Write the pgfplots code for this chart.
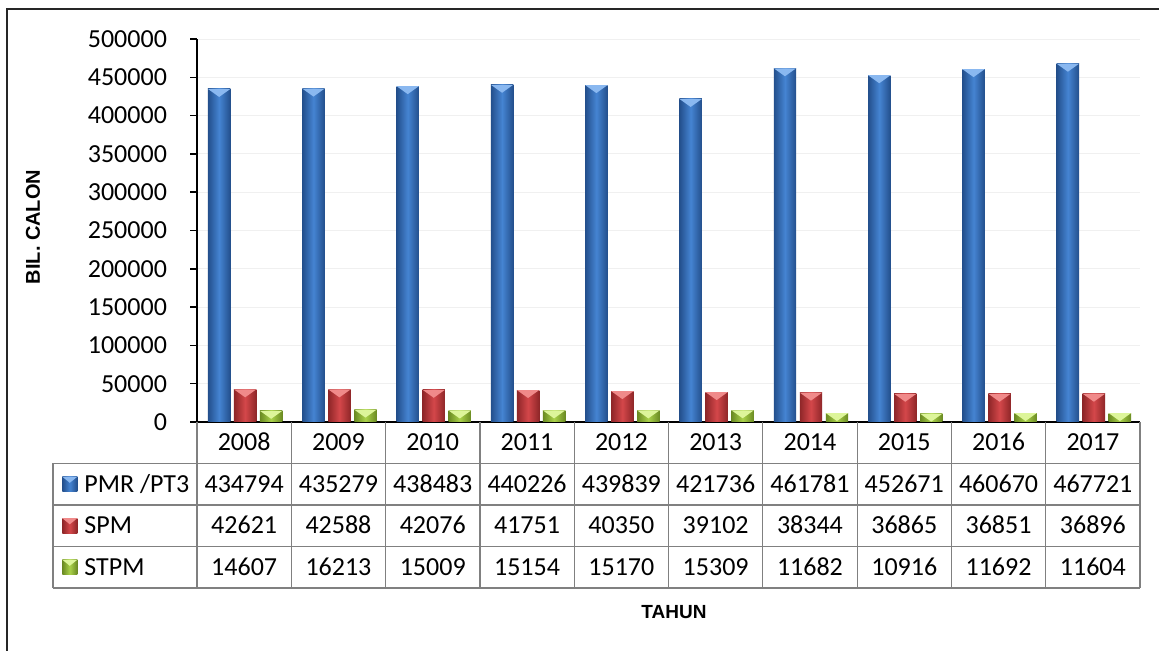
\documentclass[border=0pt]{standalone}
\usepackage{pgfplots}
\pgfplotsset{compat=1.18}
\usepackage{pgfplotstable}
\usepackage{fontspec}
\setmainfont{Carlito}
\newfontfamily\labelfont{Liberation Sans}
\definecolor{bluedark}{HTML}{234F8C}
\definecolor{bluemid}{HTML}{4584D2}
\definecolor{bluetop}{HTML}{8AB8F0}
\definecolor{reddark}{HTML}{8E2628}
\definecolor{redmid}{HTML}{D4474A}
\definecolor{redtop}{HTML}{F08A8A}
\definecolor{greendark}{HTML}{6A8A22}
\definecolor{greenmid}{HTML}{AAD24A}
\definecolor{greentop}{HTML}{DDF59A}
\pgfdeclareplotmark{bevel}{%
  \pgfpathmoveto{\pgfpoint{-5.6pt}{0pt}}%
  \pgfpathlineto{\pgfpoint{5.6pt}{0pt}}%
  \pgfpathlineto{\pgfpoint{0pt}{-4pt}}%
  \pgfpathclose\pgfusepathqfill}
\pgfplotstableread{
x year pmr spm stpm
0 2008 434794 42621 14607
1 2009 435279 42588 16213
2 2010 438483 42076 15009
3 2011 440226 41751 15154
4 2012 439839 40350 15170
5 2013 421736 39102 15309
6 2014 461781 38344 11682
7 2015 452671 36865 10916
8 2016 460670 36851 11692
9 2017 467721 36896 11604
}\data
\begin{document}
\begin{tikzpicture}[font=\fontsize{13}{15}\selectfont]
\useasboundingbox (-98.5pt,-114.5pt) rectangle (481pt,211pt);
\fill[white] (-98.5pt,-114.5pt) rectangle (481pt,211pt);
\draw[line width=0.8pt, black!85] (-95pt,-130pt) -- (-95pt,206.5pt) -- (490pt,206.5pt);
\begin{axis}[
  scale only axis, width=471.5pt, height=191.5pt,
  xmin=-0.5, xmax=9.5, ymin=0, ymax=500000,
  axis x line*=bottom, axis y line*=left,
  axis line style={line width=0.75pt, black},
  xtick=\empty,
  ytick={0,50000,100000,150000,200000,250000,300000,350000,400000,450000,500000},
  tick align=outside, major tick length=3.5pt,
  ytick style={line width=0.75pt, black},
  scaled y ticks=false,
  /pgf/number format/assume math mode=true,
  yticklabel style={/pgf/number format/fixed, /pgf/number format/1000 sep={}, font=\fontsize{13}{15}\selectfont, xshift=-8pt},
  ymajorgrids, major grid style={line width=0.4pt, black!6},
  clip=false,
]
\pgfplotsinvokeforeach{0,...,9}{
\addplot[ybar, bar width=11.2pt, bar shift=0pt, draw=none, left color=bluedark, right color=bluedark, middle color=bluemid, restrict expr to domain={\thisrow{x}}{#1:#1}] table[x expr=\thisrow{x}-0.2651, y=pmr]{\data};
\addplot[ybar, bar width=11.2pt, bar shift=0pt, draw=none, left color=reddark, right color=reddark, middle color=redmid, restrict expr to domain={\thisrow{x}}{#1:#1}] table[x expr=\thisrow{x}+0.0106, y=spm]{\data};
\addplot[ybar, bar width=11.2pt, bar shift=0pt, draw=none, left color=greendark, right color=greendark, middle color=greenmid, restrict expr to domain={\thisrow{x}}{#1:#1}] table[x expr=\thisrow{x}+0.2863, y=stpm]{\data};
}
\addplot[only marks, mark=bevel, mark options={fill=bluetop, draw=none}] table[x expr=\thisrow{x}-0.2651, y=pmr]{\data};
\addplot[only marks, mark=bevel, mark options={fill=redtop, draw=none}] table[x expr=\thisrow{x}+0.0106, y=spm]{\data};
\addplot[only marks, mark=bevel, mark options={fill=greentop, draw=none}] table[x expr=\thisrow{x}+0.2863, y=stpm]{\data};
\end{axis}
% data table grid
\begin{scope}[line width=0.6pt, black!50]
\foreach \yy in {-20.75,-41.5,-62.25,-83}{\draw (0,\yy pt) -- (471.5pt,\yy pt);}
\foreach \yy in {-41.5,-62.25,-83}{\draw (-72pt,\yy pt) -- (0,\yy pt);}
\draw (-72pt,-20.75pt) -- (0,-20.75pt);
\draw (-72pt,-20.75pt) -- (-72pt,-83pt);
\foreach \i in {0,...,10}{\draw ({\i*47.15pt},0) -- ({\i*47.15pt},-83pt);}
\end{scope}
\pgfplotstableforeachcolumnelement{year}\of\data\as\val{%
  \node[anchor=base, inner sep=0pt] at ({(\pgfplotstablerow+0.5)*47.15pt},-14.5pt) {\val};}
\pgfplotstableforeachcolumnelement{pmr}\of\data\as\val{%
  \node[anchor=base, inner sep=0pt] at ({(\pgfplotstablerow+0.5)*47.15pt},-35.25pt) {\val};}
\pgfplotstableforeachcolumnelement{spm}\of\data\as\val{%
  \node[anchor=base, inner sep=0pt] at ({(\pgfplotstablerow+0.5)*47.15pt},-56pt) {\val};}
\pgfplotstableforeachcolumnelement{stpm}\of\data\as\val{%
  \node[anchor=base, inner sep=0pt] at ({(\pgfplotstablerow+0.5)*47.15pt},-76.75pt) {\val};}
% legend keys
\path[left color=bluedark, right color=bluedark, middle color=bluemid] (-67.35pt,-34.875pt) rectangle (-59.85pt,-27.375pt);
\fill[bluetop] (-67.35pt,-27.375pt) -- (-59.85pt,-27.375pt) -- (-63.6pt,-30.4pt) -- cycle;
\path[left color=reddark, right color=reddark, middle color=redmid] (-67.35pt,-55.625pt) rectangle (-59.85pt,-48.125pt);
\fill[redtop] (-67.35pt,-48.125pt) -- (-59.85pt,-48.125pt) -- (-63.6pt,-51.15pt) -- cycle;
\path[left color=greendark, right color=greendark, middle color=greenmid] (-67.35pt,-76.375pt) rectangle (-59.85pt,-68.875pt);
\fill[greentop] (-67.35pt,-68.875pt) -- (-59.85pt,-68.875pt) -- (-63.6pt,-71.9pt) -- cycle;
\node[anchor=base west, inner sep=0pt] at (-56.5pt,-35.25pt) {PMR /PT3};
\node[anchor=base west, inner sep=0pt] at (-56.5pt,-56pt) {SPM};
\node[anchor=base west, inner sep=0pt] at (-56.5pt,-76.75pt) {STPM};
% axis titles
\node[rotate=90, font={\labelfont\bfseries\fontsize{10}{12}\selectfont}] at (-82pt,97.5pt) {BIL. CALON};
\node[font={\labelfont\bfseries\fontsize{9.5}{11}\selectfont}] at (238.5pt,-95pt) {TAHUN};
\end{tikzpicture}
\end{document}
